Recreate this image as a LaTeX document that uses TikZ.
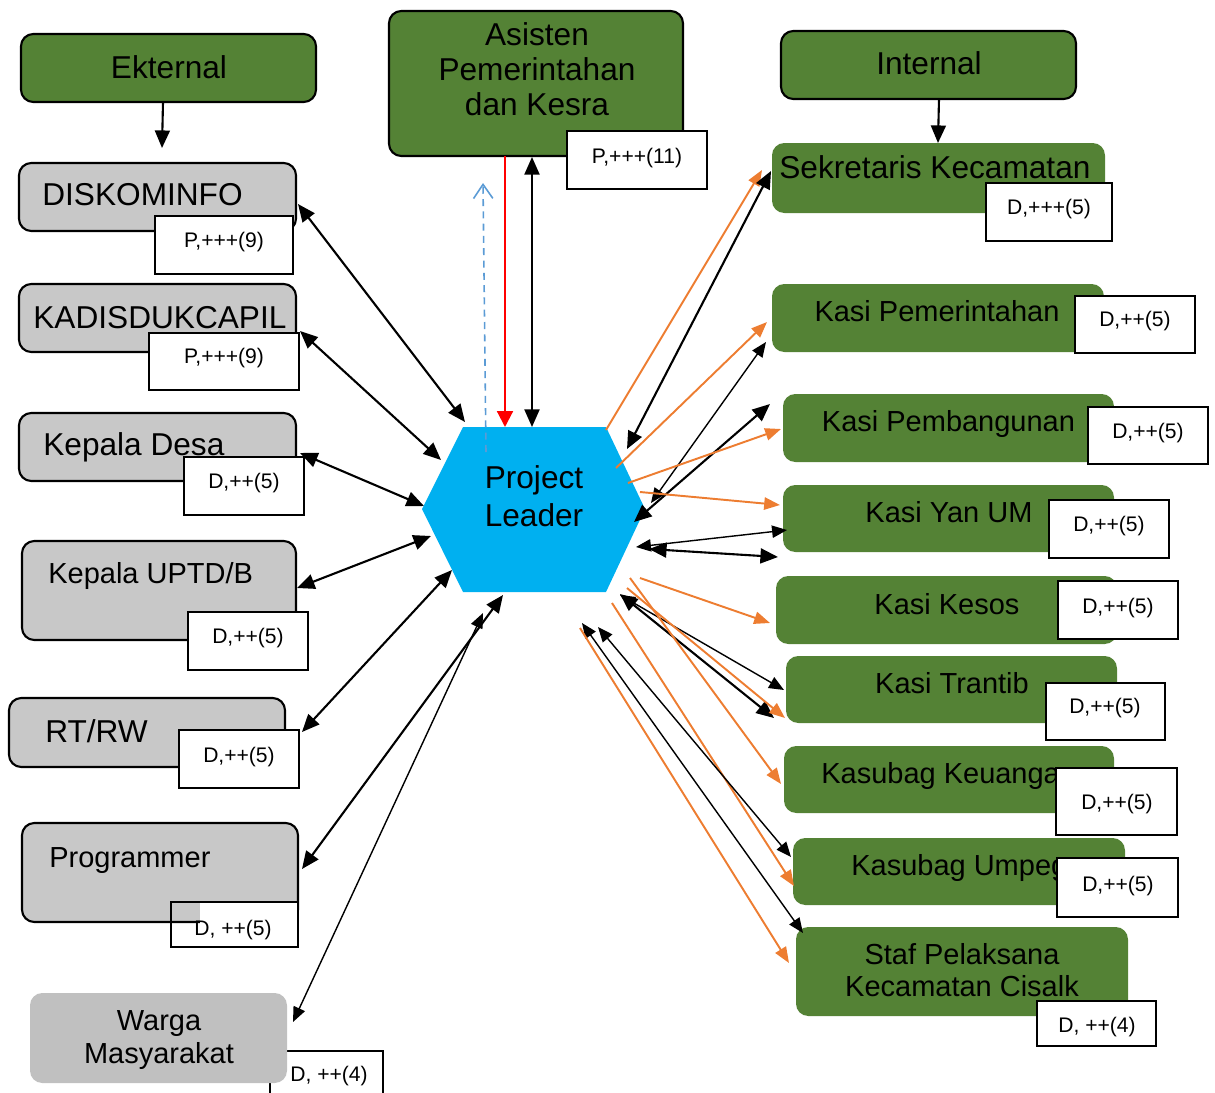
\documentclass[tikz,border=0pt]{standalone}
\usepackage{fontspec}
\setmainfont{Liberation Sans}
\usetikzlibrary{arrows.meta}
\definecolor{gr}{HTML}{548235}
\definecolor{gy}{HTML}{C8C8C8}
\definecolor{gyw}{HTML}{C0C0C0}
\definecolor{hx}{HTML}{00B0F0}
\definecolor{org}{HTML}{ED7D31}
\definecolor{bl}{HTML}{5B9BD5}
\begin{document}
\begin{tikzpicture}[x=0.02cm,y=-0.02cm,
  box/.style 2 args={minimum width=#1*0.02cm, minimum height=#2*0.02cm, inner sep=0pt, outer sep=0pt},
  extbox/.style={draw=black, line width=1.2pt, rounded corners=7pt, fill=gr},
  graybox/.style={draw=black, line width=1.2pt, rounded corners=7pt, fill=gy},
  intbox/.style={fill=gr, rounded corners=7pt},
  lbl/.style={draw=black, line width=0.8pt, fill=white},
  big/.style={font=\fontsize{18}{20}\selectfont, inner sep=0pt, anchor=base},
  mid/.style={font=\fontsize{16.5}{19}\selectfont, inner sep=0pt, anchor=base},
  sm/.style={font=\fontsize{12}{14}\selectfont, inner sep=0pt, anchor=base},
  thk/.style={line width=1.2pt, {Triangle[length=10pt,width=8.5pt]}-{Triangle[length=10pt,width=8.5pt]}},
  thn/.style={line width=0.8pt, {Triangle[length=8.5pt,width=7pt]}-{Triangle[length=8.5pt,width=7pt]}},
  oar/.style={draw=org, line width=1.1pt, -{Triangle[length=9pt,width=7pt]}, org}
]
\useasboundingbox (0,0) rectangle (1215,1093);

% ---------- left column ----------
\node[extbox, box={295}{68}] (ext) at (168.5,68) {};
\node[big] (tExt) at (169,78) {Ekternal};

\node[graybox, box={277}{68}] (disk) at (157.5,197) {};
\node[big, anchor=base west] (tDisk) at (42,205) {DISKOMINFO};
\node[lbl, box={138}{58}] (Ldisk) at (224,245) {};
\node[sm] (tLdisk) at (224,247) {P,+++(9)};

\node[graybox, box={277}{68}] (kad) at (157.5,318) {};
\node[big, anchor=base west] (tKad) at (33,328) {KADISDUKCAPIL};
\node[lbl, box={150}{57}] (Lkad) at (224,361.5) {};
\node[sm] (tLkad) at (224,363) {P,+++(9)};

\node[graybox, box={277}{68}] (desa) at (157.5,447) {};
\node[big, anchor=base west] (tDesa) at (43,455) {Kepala Desa};
\node[lbl, box={120}{58}] (Ldesa) at (244,486) {};
\node[sm] (tLdesa) at (244,488) {D,++(5)};

\node[graybox, box={274}{99}] (uptd) at (159,590.5) {};
\node[mid, anchor=base west] (tUptd) at (48,583) {Kepala UPTD/B};
\node[lbl, box={120}{58}] (Luptd) at (248,641) {};
\node[sm] (tLuptd) at (248,643) {D,++(5)};

\node[graybox, box={276}{69}] (rt) at (147,732.5) {};
\node[big, anchor=base west] (tRt) at (45,742) {RT/RW};
\node[lbl, box={120}{58}] (Lrt) at (239,759) {};
\node[sm] (tLrt) at (239,762) {D,++(5)};

\node[graybox, box={276}{99}] (prog) at (160,872.5) {};
\node[mid, anchor=base west] (tProg) at (49,867) {Programmer};
\fill[white] (200,902) rectangle (298,947);
\node[draw=black, line width=0.8pt, box={127}{45}] (Lprog) at (234.5,924.5) {};
\node[sm] (tLprog) at (233,935) {D, ++(5)};

\node[lbl, box={113}{59}] (Lwarga) at (326.5,1080.5) {};
\node[fill=gyw, rounded corners=7pt, box={257}{90}] (warga) at (158.5,1038) {};
\node[mid] (tWarga1) at (159,1030) {Warga};
\node[mid] (tWarga2) at (159,1063) {Masyarakat};
\node[sm, anchor=base west] (tLwarga) at (290,1081) {D, ++(4)};

% ---------- top middle ----------
\node[extbox, box={294}{145}] (asis) at (536,83.5) {};
\node[big] (tAsis1) at (537,45) {Asisten};
\node[big] (tAsis2) at (537,80) {Pemerintahan};
\node[big] (tAsis3) at (537,115) {dan Kesra};
\node[lbl, box={140}{58}] (Lasis) at (637,160) {};
\node[sm] (tLasis) at (637,163) {P,+++(11)};

% ---------- hexagon ----------
\fill[hx] (463,427) -- (606,427) -- (645,509) -- (606,592) -- (463,592) -- (422,509) -- cycle;
\node[box={224}{165}] (pl) at (534,509) {};
\node[big] (tPl1) at (534,488) {Project};
\node[big] (tPl2) at (534,526) {Leader};

% ---------- right column ----------
\node[extbox, box={295}{68}] (int) at (928.5,65) {};
\node[big] (tInt) at (929,74) {Internal};

\node[intbox, box={333}{70}] (sek) at (938.5,178) {};
\node[big, anchor=base west] (tSek) at (779,178) {Sekretaris Kecamatan};
\node[lbl, box={126}{58}] (Lsek) at (1049,212) {};
\node[sm] (tLsek) at (1049,214) {D,+++(5)};

\node[intbox, box={332}{68}] (pem) at (938,318) {};
\node[mid] (tPem) at (937,321) {Kasi Pemerintahan};
\node[lbl, box={120}{57}] (Lpem) at (1135,324.5) {};
\node[sm] (tLpem) at (1135,326) {D,++(5)};

\node[intbox, box={331}{68}] (bang) at (948.5,428) {};
\node[mid] (tBang) at (948.5,431) {Kasi Pembangunan};
\node[lbl, box={120}{57}] (Lbang) at (1148,435.5) {};
\node[sm] (tLbang) at (1148,438) {D,++(5)};

\node[intbox, box={331}{67}] (yan) at (948.5,518.5) {};
\node[mid] (tYan) at (949,522) {Kasi Yan UM};
\node[lbl, box={120}{58}] (Lyan) at (1109,529) {};
\node[sm] (tLyan) at (1109,531) {D,++(5)};

\node[intbox, box={341}{68}] (kesos) at (946.5,610) {};
\node[mid] (tKesos) at (947,614) {Kasi Kesos};
\node[lbl, box={120}{58}] (Lkesos) at (1118,610) {};
\node[sm] (tLkesos) at (1118,613) {D,++(5)};

\node[intbox, box={331}{67}] (tran) at (951.5,689.5) {};
\node[mid] (tTran) at (952,693) {Kasi Trantib};
\node[lbl, box={119}{57}] (Ltran) at (1105.5,711.5) {};
\node[sm] (tLtran) at (1105,713) {D,++(5)};

\node[intbox, box={330}{67}] (keu) at (949,779.5) {};
\node[mid, anchor=base west] (tKeu) at (821,783) {Kasubag Keuangan};
\node[lbl, box={121}{67}] (Lkeu) at (1116.5,801.5) {};
\node[sm] (tLkeu) at (1117,809) {D,++(5)};

\node[intbox, box={332}{67}] (ump) at (959,871.5) {};
\node[mid, anchor=base west] (tUmp) at (851,875) {Kasubag Umpeg};
\node[lbl, box={121}{59}] (Lump) at (1117.5,887.5) {};
\node[sm] (tLump) at (1118,891) {D,++(5)};

\node[intbox, box={332}{89}] (staf) at (962,971.5) {};
\node[mid] (tStaf1) at (962,964) {Staf Pelaksana};
\node[mid] (tStaf2) at (962,996) {Kecamatan Cisalk};
\node[lbl, box={119}{45}] (Lstaf) at (1096.5,1023.5) {};
\node[sm] (tLstaf) at (1097,1032) {D, ++(4)};

% ---------- connectors: headers ----------
\draw[line width=1.2pt, -{Triangle[length=10pt,width=8.5pt]}] ([shift={(-5.5,34)}]ext.center) -- ([shift={(4.5,-49)}]disk.center);
\draw[line width=1.2pt, -{Triangle[length=10pt,width=8.5pt]}] ([shift={(10.5,34)}]int.center) -- ([shift={(-0.5,-35)}]sek.center);

% ---------- left connectors ----------
\draw[thk] ([shift={(140.5,7)}]disk.center) -- ([shift={(-69,-87)}]pl.center);
\draw[thk] ([shift={(142.5,13)}]kad.center) -- ([shift={(-93,-49)}]pl.center);
\draw[thk] ([shift={(142.5,6)}]desa.center) -- ([shift={(-110,-3)}]pl.center);
\draw[thk] ([shift={(138,-2.5)}]uptd.center) -- ([shift={(-103,27)}]pl.center);
\draw[thk] ([shift={(155,-0.5)}]rt.center) -- ([shift={(-82,61)}]pl.center);
\draw[thk] ([shift={(142,-3.5)}]prog.center) -- ([shift={(-31,86)}]pl.center);
\draw[thn] ([shift={(134.5,-16)}]warga.center) -- ([shift={(-51,104)}]pl.center);

% ---------- top connectors ----------
\draw[red, line width=1.2pt, -{Triangle[length=9pt,width=9pt]}] ([shift={(-31,72.5)}]asis.center) -- ([shift={(-29,-82)}]pl.center);
\draw[thk] ([shift={(-4,73.5)}]asis.center) -- ([shift={(-2,-82)}]pl.center);
\draw[bl, line width=0.9pt, dash pattern=on 4pt off 3pt, -{Straight Barb[length=8pt,width=11pt]}] ([shift={(-48,-57)}]pl.center) -- ([shift={(-53,99.5)}]asis.center);

% ---------- right connectors ----------
\draw[oar] ([shift={(72,-79)}]pl.center) -- ([shift={(-176.5,-8)}]sek.center);
\draw[thk] ([shift={(-167.5,-7)}]sek.center) -- ([shift={(93,-60)}]pl.center);
\draw[oar] ([shift={(82,-41)}]pl.center) -- ([shift={(-171,4)}]pem.center);
\draw[thn] ([shift={(-172,24)}]pem.center) -- ([shift={(117,-6)}]pl.center);
\draw[thk] ([shift={(-178.5,-24)}]bang.center) -- ([shift={(100,13)}]pl.center);
\draw[oar] ([shift={(94,-26)}]pl.center) -- ([shift={(-167.5,1)}]bang.center);
\draw[oar] ([shift={(106,-17)}]pl.center) -- ([shift={(-168.5,-13.5)}]yan.center);
\draw[thn] ([shift={(-161.5,11.5)}]yan.center) -- ([shift={(102,38)}]pl.center);
\draw[thk] ([shift={(-170.5,38.5)}]yan.center) -- ([shift={(115,40)}]pl.center);
\draw[oar] ([shift={(106,69)}]pl.center) -- ([shift={(-176.5,13)}]kesos.center);
\draw[thn] ([shift={(86,86)}]pl.center) -- ([shift={(-167.5,0.5)}]tran.center);
\draw[thk] ([shift={(86,85)}]pl.center) -- ([shift={(-177.5,28.5)}]tran.center);
\draw[oar] ([shift={(93,79)}]pl.center) -- ([shift={(-166.5,28.5)}]tran.center);
\draw[oar] ([shift={(96,69)}]pl.center) -- ([shift={(-168,4.5)}]keu.center);
\draw[oar] ([shift={(78,94)}]pl.center) -- ([shift={(-165,14.5)}]ump.center);
\draw[thn] ([shift={(64,118)}]pl.center) -- ([shift={(-168,-14.5)}]ump.center);
\draw[thn] ([shift={(48,114)}]pl.center) -- ([shift={(-159,-38.5)}]staf.center);
\draw[oar] ([shift={(46,119)}]pl.center) -- ([shift={(-173,-8.5)}]staf.center);
\end{tikzpicture}
\end{document}
